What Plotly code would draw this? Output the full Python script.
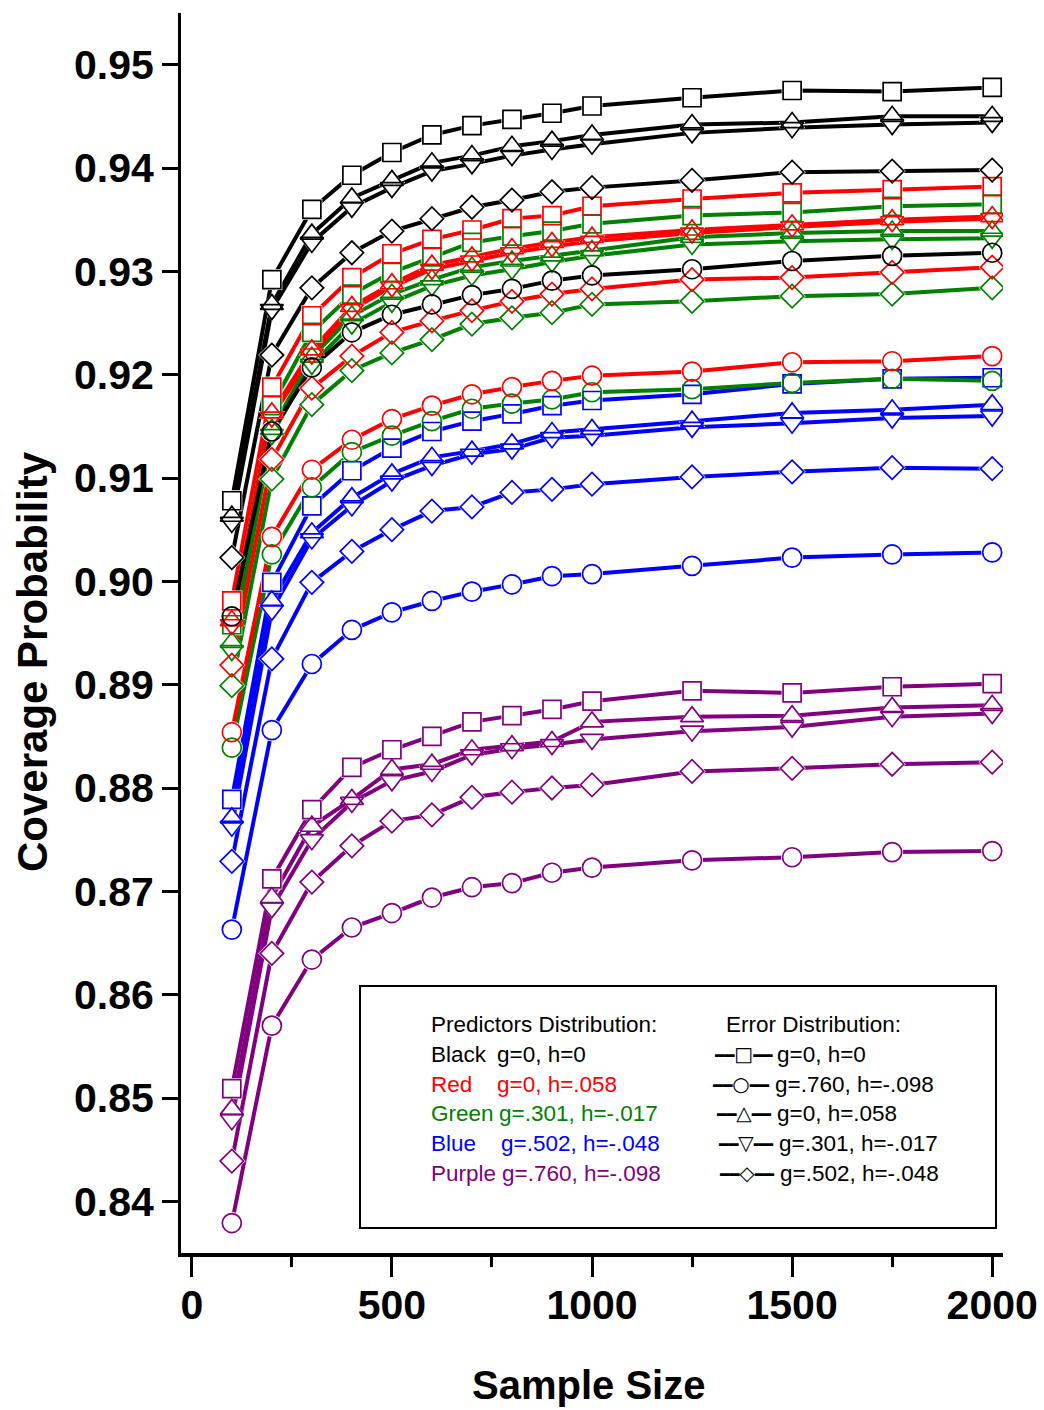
import plotly.graph_objects as go

# ---------------- data ----------------
sample_size = [100, 200, 300, 400, 500, 600, 700, 800, 900, 1000, 1250, 1500, 1750, 2000]

black_square   = [0.9078, 0.9292, 0.9360, 0.9393, 0.9415, 0.9432, 0.9441, 0.9447, 0.9453, 0.9460, 0.9468, 0.9475, 0.9474, 0.9478]
black_circle   = [0.8966, 0.9145, 0.9207, 0.9241, 0.9258, 0.9268, 0.9277, 0.9283, 0.9291, 0.9296, 0.9302, 0.9310, 0.9315, 0.9318]
black_tri_up   = [0.9063, 0.9268, 0.9336, 0.9371, 0.9388, 0.9405, 0.9412, 0.9421, 0.9426, 0.9432, 0.9442, 0.9444, 0.9450, 0.9450]
black_tri_down = [0.9057, 0.9263, 0.9328, 0.9362, 0.9381, 0.9397, 0.9404, 0.9412, 0.9418, 0.9423, 0.9434, 0.9439, 0.9442, 0.9444]
black_diamond  = [0.9023, 0.9219, 0.9284, 0.9318, 0.9339, 0.9351, 0.9362, 0.9369, 0.9377, 0.9381, 0.9388, 0.9396, 0.9397, 0.9398]

red_square   = [0.8981, 0.9188, 0.9257, 0.9294, 0.9317, 0.9331, 0.9340, 0.9351, 0.9354, 0.9363, 0.9370, 0.9376, 0.9379, 0.9382]
red_circle   = [0.8854, 0.9043, 0.9108, 0.9137, 0.9157, 0.9170, 0.9181, 0.9188, 0.9194, 0.9199, 0.9203, 0.9212, 0.9213, 0.9218]
red_tri_up   = [0.8962, 0.9163, 0.9224, 0.9266, 0.9288, 0.9306, 0.9314, 0.9322, 0.9328, 0.9333, 0.9340, 0.9345, 0.9350, 0.9353]
red_tri_down = [0.8958, 0.9159, 0.9220, 0.9263, 0.9285, 0.9302, 0.9310, 0.9318, 0.9324, 0.9329, 0.9337, 0.9343, 0.9348, 0.9351]
red_diamond  = [0.8919, 0.9118, 0.9187, 0.9218, 0.9241, 0.9252, 0.9262, 0.9271, 0.9278, 0.9283, 0.9292, 0.9294, 0.9299, 0.9304]

green_square   = [0.8958, 0.9170, 0.9241, 0.9278, 0.9299, 0.9314, 0.9328, 0.9334, 0.9339, 0.9346, 0.9354, 0.9357, 0.9363, 0.9365]
green_circle   = [0.8839, 0.9026, 0.9091, 0.9125, 0.9141, 0.9155, 0.9167, 0.9172, 0.9176, 0.9183, 0.9186, 0.9192, 0.9196, 0.9194]
green_tri_up   = [0.8941, 0.9147, 0.9217, 0.9257, 0.9278, 0.9292, 0.9304, 0.9310, 0.9315, 0.9320, 0.9333, 0.9337, 0.9339, 0.9339]
green_tri_down = [0.8933, 0.9142, 0.9210, 0.9249, 0.9270, 0.9286, 0.9296, 0.9302, 0.9309, 0.9315, 0.9326, 0.9329, 0.9331, 0.9332]
green_diamond  = [0.8899, 0.9099, 0.9171, 0.9204, 0.9221, 0.9234, 0.9249, 0.9255, 0.9260, 0.9268, 0.9271, 0.9276, 0.9278, 0.9284]

blue_square   = [0.8789, 0.8999, 0.9073, 0.9107, 0.9129, 0.9145, 0.9155, 0.9162, 0.9170, 0.9175, 0.9181, 0.9191, 0.9196, 0.9197]
blue_circle   = [0.8663, 0.8856, 0.8920, 0.8953, 0.8970, 0.8981, 0.8990, 0.8997, 0.9005, 0.9007, 0.9015, 0.9023, 0.9026, 0.9028]
blue_tri_up   = [0.8771, 0.8981, 0.9047, 0.9081, 0.9104, 0.9120, 0.9126, 0.9133, 0.9144, 0.9147, 0.9155, 0.9163, 0.9166, 0.9171]
blue_tri_down = [0.8763, 0.8972, 0.9041, 0.9073, 0.9097, 0.9112, 0.9123, 0.9128, 0.9139, 0.9141, 0.9149, 0.9153, 0.9158, 0.9160]
blue_diamond  = [0.8729, 0.8925, 0.8999, 0.9029, 0.9050, 0.9068, 0.9072, 0.9086, 0.9089, 0.9094, 0.9101, 0.9106, 0.9110, 0.9109]

purple_square   = [0.8509, 0.8712, 0.8779, 0.8820, 0.8837, 0.8850, 0.8864, 0.8870, 0.8876, 0.8884, 0.8894, 0.8892, 0.8898, 0.8901]
purple_circle   = [0.8379, 0.8570, 0.8634, 0.8665, 0.8679, 0.8694, 0.8704, 0.8708, 0.8718, 0.8723, 0.8730, 0.8733, 0.8738, 0.8739]
purple_tri_up   = [0.8489, 0.8694, 0.8763, 0.8789, 0.8818, 0.8823, 0.8837, 0.8841, 0.8845, 0.8864, 0.8869, 0.8870, 0.8878, 0.8880]
purple_tri_down = [0.8479, 0.8684, 0.8750, 0.8786, 0.8807, 0.8816, 0.8832, 0.8838, 0.8842, 0.8847, 0.8855, 0.8859, 0.8869, 0.8872]
purple_diamond  = [0.8439, 0.8640, 0.8709, 0.8744, 0.8768, 0.8774, 0.8791, 0.8796, 0.8800, 0.8803, 0.8816, 0.8819, 0.8823, 0.8825]

y_tick_values = [0.84, 0.85, 0.86, 0.87, 0.88, 0.89, 0.90, 0.91, 0.92, 0.93, 0.94, 0.95]
x_tick_values = [0, 500, 1000, 1500, 2000]
x_minor_tick_values = [250, 750, 1250, 1750]

predictor_names  = ["Black", "Red", "Green", "Blue", "Purple"]
predictor_params = ["g=0, h=0", "g=0, h=.058", "g=.301, h=-.017", "g=.502, h=-.048", "g=.760, h=-.098"]
error_params     = ["g=0, h=0", "g=.760, h=-.098", "g=0, h=.058", "g=.301, h=-.017", "g=.502, h=-.048"]
error_glyphs     = ["\u25a1", "\u25cb", "\u25b3", "\u25bd", "\u25c7"]

# ---------------- styling ----------------
colors = {"black": "#000000", "red": "#ff0000", "green": "#008000",
          "blue": "#0000ff", "purple": "#800080"}
symbols = {"square": ("square", 18), "circle": ("circle", 19),
           "tri_up": ("triangle-up", 20), "tri_down": ("triangle-down", 20),
           "diamond": ("diamond", 18)}

series = {
    "black":  {"square": black_square, "circle": black_circle, "tri_up": black_tri_up,
               "tri_down": black_tri_down, "diamond": black_diamond},
    "red":    {"square": red_square, "circle": red_circle, "tri_up": red_tri_up,
               "tri_down": red_tri_down, "diamond": red_diamond},
    "green":  {"square": green_square, "circle": green_circle, "tri_up": green_tri_up,
               "tri_down": green_tri_down, "diamond": green_diamond},
    "blue":   {"square": blue_square, "circle": blue_circle, "tri_up": blue_tri_up,
               "tri_down": blue_tri_down, "diamond": blue_diamond},
    "purple": {"square": purple_square, "circle": purple_circle, "tri_up": purple_tri_up,
               "tri_down": purple_tri_down, "diamond": purple_diamond},
}
draw_order = ["purple", "blue", "green", "red", "black"]

fig = go.Figure()

# layer 1: lines
for cname in draw_order:
    for sname, vals in series[cname].items():
        fig.add_trace(go.Scatter(x=sample_size, y=vals, mode="lines",
                                 line=dict(color=colors[cname], width=4),
                                 showlegend=False, hoverinfo="skip"))
# layer 2: white halo (gap between line ends and hollow markers)
for cname in draw_order:
    for sname, vals in series[cname].items():
        sym, sz = symbols[sname]
        fig.add_trace(go.Scatter(x=sample_size, y=vals, mode="markers",
                                 marker=dict(symbol=sym, size=sz + 3, color="white",
                                             line=dict(width=0)),
                                 showlegend=False, hoverinfo="skip"))
# layer 3: marker outlines
for cname in draw_order:
    for sname, vals in series[cname].items():
        sym, sz = symbols[sname]
        fig.add_trace(go.Scatter(x=sample_size, y=vals, mode="markers",
                                 marker=dict(symbol=sym + "-open", size=sz, color=colors[cname],
                                             line=dict(width=1.7, color=colors[cname])),
                                 showlegend=False))

# ---------------- layout helpers (pixel -> paper) ----------------
L, R, T, B = 181, 1003, 13, 1253
def px_x(px):
    return (px - L) / (R - L)
def px_y(py):
    return (B - py) / (B - T)

annotations = []
annotations.append(dict(text="Coverage Probability", x=px_x(32), y=px_y(662), xref="paper", yref="paper",
                        textangle=-90, showarrow=False, xanchor="center", yanchor="middle",
                        font=dict(family="Arial", size=42, color="black", weight="bold")))
annotations.append(dict(text="Sample Size", x=px_x(588), y=px_y(1385), xref="paper", yref="paper",
                        showarrow=False, xanchor="center", yanchor="middle",
                        font=dict(family="Arial", size=40, color="black", weight="bold")))

lf = dict(family="Arial", size=22.5, color="black")
row_y = [1024, 1054, 1084, 1113, 1143, 1173]
annotations.append(dict(text="Predictors Distribution:", x=px_x(429), y=px_y(row_y[0]), xref="paper",
                        yref="paper", showarrow=False, xanchor="left", yanchor="middle", font=lf))
annotations.append(dict(text="Error Distribution:", x=px_x(724), y=px_y(row_y[0]), xref="paper",
                        yref="paper", showarrow=False, xanchor="left", yanchor="middle", font=lf))
param_x = [495, 495, 497, 499, 500]
for i, cname in enumerate(["black", "red", "green", "blue", "purple"]):
    f = dict(lf, color=colors[cname])
    annotations.append(dict(text=predictor_names[i], x=px_x(429), y=px_y(row_y[i + 1]), xref="paper",
                            yref="paper", showarrow=False, xanchor="left", yanchor="middle", font=f))
    annotations.append(dict(text=predictor_params[i], x=px_x(param_x[i]), y=px_y(row_y[i + 1]), xref="paper",
                            yref="paper", showarrow=False, xanchor="left", yanchor="middle", font=f))
sample_cx = [743, 740, 743, 745.5, 746]
err_text_x = [775, 773, 775, 777, 778]
for i in range(5):
    annotations.append(dict(text="<b>\u2501\u2501</b><span style='font-size:20px'>" + error_glyphs[i] +
                                 "</span><b>\u2501\u2501</b>",
                            x=px_x(sample_cx[i]), y=px_y(row_y[i + 1]), xref="paper", yref="paper",
                            showarrow=False, xanchor="center", yanchor="middle",
                            font=dict(family="DejaVu Sans", size=16, color="black")))
    annotations.append(dict(text=error_params[i], x=px_x(err_text_x[i]), y=px_y(row_y[i + 1]), xref="paper",
                            yref="paper", showarrow=False, xanchor="left", yanchor="middle", font=lf))

shapes = [dict(type="rect", xref="paper", yref="paper",
               x0=px_x(360), x1=px_x(996), y0=px_y(1228), y1=px_y(986),
               line=dict(color="black", width=2), fillcolor="rgba(0,0,0,0)", layer="below")]

tickfont = dict(family="Arial", size=41, color="black", weight="bold")

fig.update_layout(
    width=1044, height=1410,
    margin=dict(l=L, r=1044 - R, t=T, b=1410 - B, pad=0),
    paper_bgcolor="white", plot_bgcolor="white",
    showlegend=False,
    annotations=annotations,
    shapes=shapes,
    xaxis=dict(range=[-27, 2027], tickvals=x_tick_values, ticktext=[str(v) for v in x_tick_values],
               ticks="outside", ticklen=20, tickwidth=2.5, tickcolor="black", ticklabelstandoff=-7,
               minor=dict(tickvals=x_minor_tick_values, ticks="outside", ticklen=10,
                          tickwidth=2.5, tickcolor="black"),
               showline=True, linecolor="black", linewidth=3.5, mirror=False, automargin=False,
               showgrid=False, zeroline=False, tickfont=tickfont),
    yaxis=dict(range=[0.835, 0.955], tickvals=y_tick_values, tickformat=".2f",
               ticks="outside", ticklen=16, tickwidth=2.5, tickcolor="black",
               showline=True, linecolor="black", linewidth=3, mirror=False, automargin=False,
               showgrid=False, zeroline=False, tickfont=tickfont),
)

fig.write_html("out.html")
